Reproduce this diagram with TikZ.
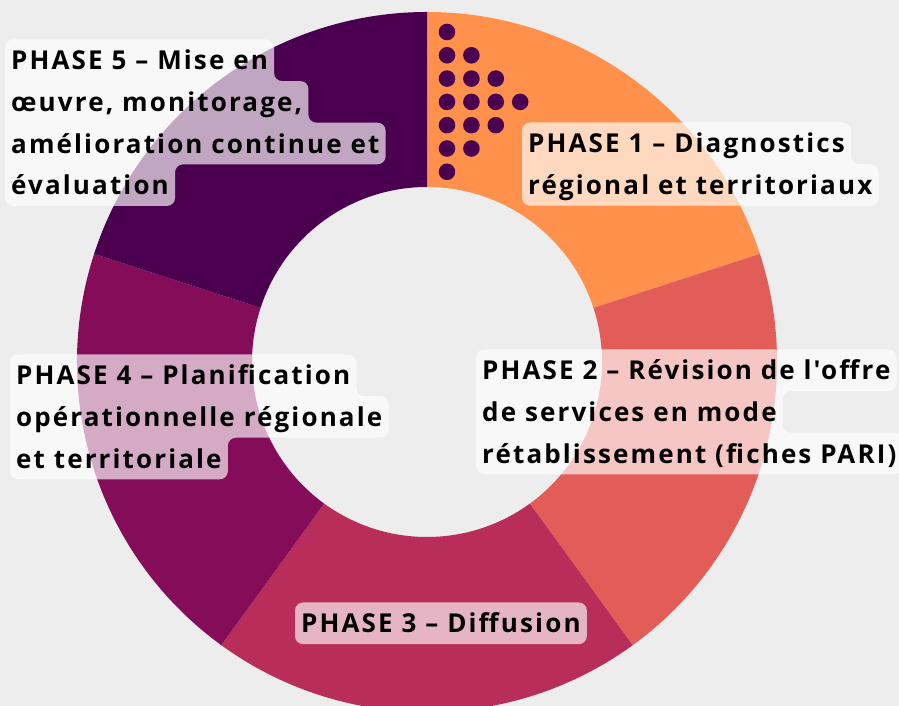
\documentclass[tikz,border=0pt]{standalone}
\usepackage{fontspec}
\setmainfont{Open Sans}[Ligatures=TeXOff,LetterSpace=8.2]
\definecolor{canvas}{HTML}{EDEDED}
\definecolor{phaseone}{HTML}{FF914D}
\definecolor{phasetwo}{HTML}{E35D58}
\definecolor{phasethree}{HTML}{B92D5B}
\definecolor{phasefour}{HTML}{850C58}
\definecolor{phasefive}{HTML}{4B004F}
\pgfdeclarelayer{front}
\pgfsetlayers{main,front}
\begin{document}
\begin{tikzpicture}[x=1pt,y=1pt,every node/.style={font=\fontsize{26}{30}\selectfont\bfseries}]
\tikzset{line/.style={anchor=base west,inner sep=0pt}, tag/.style={fill=white,fill opacity=0.65,rounded corners=8pt}}
\fill[canvas] (0,0) rectangle (899,706);
\useasboundingbox (0,0) rectangle (899,706);
% ring of five phases, clockwise from the top
\coordinate (c) at (427,344);
\foreach \a/\col [evaluate=\a as \b using \a-72] in {90/phaseone,18/phasetwo,-54/phasethree,-126/phasefour,-198/phasefive}
  \fill[\col] ([shift={(\a:350)}]c) arc[start angle=\a,end angle=\b,radius=350] -- ([shift={(\b:175)}]c) arc[start angle=\b,end angle=\a,radius=175] -- cycle;
% arrow of dots
\foreach \i [evaluate=\i as \last using int(6-\i)] in {0,...,3}
  \foreach \j in {\i,...,\last}
    \fill[phasefive] (447+24.4*\i,674-23.3*\j) circle[radius=8.3];
\begin{pgfonlayer}{front}
\node[line] (p1a) at (528,553) {PHASE 1 – Diagnostics};
\node[line] (p1b) at (528,511.4) {régional et territoriaux};
\node[line] (p2a) at (482,326) {PHASE 2 – Révision de l'offre};
\node[line] (p2b) at (482,284.4) {de services en mode};
\node[line] (p2c) at (482,242.8) {rétablissement (fiches PARI)};
\node[line] (p3) at (301,73) {PHASE 3 – Diffusion};
\node[line] (p4a) at (16,321) {PHASE 4 – Planification};
\node[line] (p4b) at (16,279.4) {opérationnelle régionale};
\node[line] (p4c) at (16,237.8) {et territoriale};
\node[line] (p5a) at (11,636) {PHASE 5 – Mise en};
\node[line] (p5b) at (11,594.4) {œuvre, monitorage,};
\node[line] (p5c) at (11,552.8) {amélioration continue et};
\node[line] (p5d) at (11,511.2) {évaluation};
\end{pgfonlayer}
% label backgrounds
\fill[tag] ([shift={(-6,30.5)}]p1a.base west) -- ([shift={(6,30.5)}]p1a.base east) |- ([shift={(6,30.5)}]p1b.base east) |- ([shift={(-6,-11.1)}]p1b.base west) -- cycle;
\fill[tag] ([shift={(-6,30.5)}]p2a.base west) -- ([shift={(6,30.5)}]p2a.base east) |- ([shift={(6,30.5)}]p2b.base east) |- ([shift={(6,30.5)}]p2c.base east) |- ([shift={(-6,-11.1)}]p2c.base west) -- cycle;
\fill[tag] ([shift={(-6,30.5)}]p3.base west) rectangle ([shift={(6,-11.1)}]p3.base east);
\fill[tag] ([shift={(-6,30.5)}]p4a.base west) -- ([shift={(6,30.5)}]p4a.base east) |- ([shift={(6,30.5)}]p4b.base east) |- ([shift={(6,30.5)}]p4c.base east) |- ([shift={(-6,-11.1)}]p4c.base west) -- cycle;
\fill[tag] ([shift={(-6,30.5)}]p5a.base west) -- ([shift={(6,30.5)}]p5a.base east) |- ([shift={(6,30.5)}]p5b.base east) |- ([shift={(6,30.5)}]p5c.base east) |- ([shift={(6,30.5)}]p5d.base east) |- ([shift={(-6,-11.1)}]p5d.base west) -- cycle;
\end{tikzpicture}
\end{document}
